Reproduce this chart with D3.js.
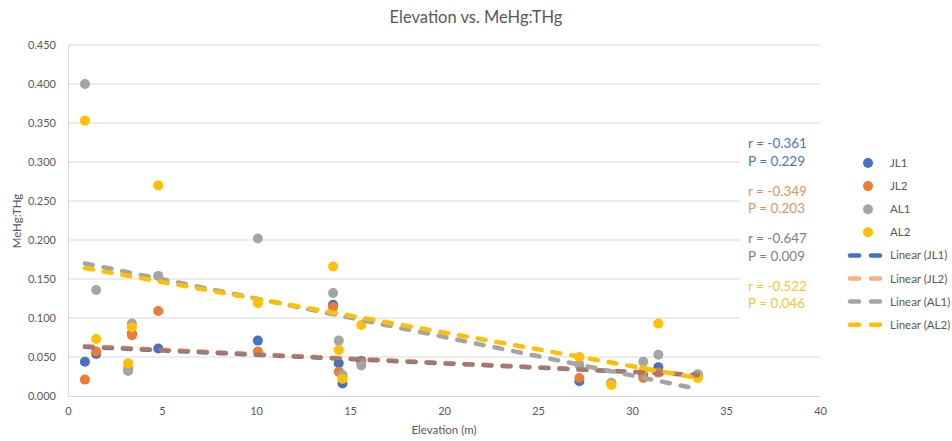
<!DOCTYPE html>
<html><head><meta charset="utf-8">
<script src="https://cdnjs.cloudflare.com/ajax/libs/d3/7.8.5/d3.min.js"></script>
<style>
html,body{margin:0;padding:0;background:#fff;}
svg{display:block;font-family:Lato,"Open Sans",sans-serif;}
</style></head>
<body><svg id="c" width="952" height="441"></svg>
<script>
// ---- data ----
const seriesNames = ["JL1", "JL2", "AL1", "AL2"];
const seriesColors = ["#4472C4", "#ED7D31", "#A5A5A5", "#FFC000"];
const elevAll = [0.9, 1.5, 3.2, 3.4, 4.8, 10.1, 14.1, 14.4, 14.6, 15.6, 27.2, 28.9, 30.6, 31.4, 33.5];
const elevJL1 = [0.9, 1.5, 3.4, 4.8, 10.1, 14.1, 14.4, 14.6, 15.6, 27.2, 30.6, 31.4, 33.5];
const valJL1 = [0.044, 0.054, 0.080, 0.061, 0.071, 0.117, 0.042, 0.016, 0.045, 0.019, 0.027, 0.037, 0.026];
const valJL2 = [0.021, 0.057, 0.035, 0.078, 0.109, 0.057, 0.114, 0.031, 0.024, 0.043, 0.023, 0.016, 0.023, 0.030, 0.025];
const valAL1 = [0.400, 0.136, 0.032, 0.093, 0.154, 0.202, 0.132, 0.071, 0.027, 0.039, 0.040, 0.017, 0.044, 0.053, 0.028];
const valAL2 = [0.353, 0.073, 0.042, 0.088, 0.270, 0.119, 0.166, 0.059, 0.022, 0.091, 0.050, 0.014, 0.033, 0.093, 0.023];
// linear trend lines: start/end elevation and value
const trendX = [[0.9, 33.5], [0.9, 33.5], [0.9, 33.5], [0.9, 33.5]];
const trendY = [[0.063, 0.027], [0.064, 0.027], [0.170, 0.009], [0.164, 0.023]];
const statR = ["r = -0.361", "r = -0.349", "r = -0.647", "r = -0.522"];
const statP = ["P = 0.229", "P = 0.203", "P = 0.009", "P = 0.046"];
const statColors = ["#4A74C0", "#E4935A", "#7F7F7F", "#F8C530"];
const xTicks = [0, 5, 10, 15, 20, 25, 30, 35, 40];
const yTicks = [0, 0.05, 0.1, 0.15, 0.2, 0.25, 0.3, 0.35, 0.4, 0.45];
const legendLabels = ["JL1", "JL2", "AL1", "AL2", "Linear (JL1)", "Linear (JL2)", "Linear (AL1)", "Linear (AL2)"];

const series = [
  {x: elevJL1, y: valJL1},
  {x: elevAll, y: valJL2},
  {x: elevAll, y: valAL1},
  {x: elevAll, y: valAL2}
];

// ---- layout ----
const L = 68, R = 820, T = 45, B = 396;
const svg = d3.select("#c");
const x = d3.scaleLinear().domain([0, 40]).range([L, R]);
const y = d3.scaleLinear().domain([0, 0.45]).range([B, T]);
const txt = "#595959";

// gridlines
svg.append("g").selectAll("line").data(yTicks.filter(d => d > 0)).join("line")
  .attr("x1", L).attr("x2", R).attr("y1", d => y(d)).attr("y2", d => y(d))
  .attr("stroke", "#D9D9D9").attr("stroke-width", 1);

// axes
const xAxis = svg.append("g").attr("transform", `translate(0,${B})`)
  .call(d3.axisBottom(x).tickValues(xTicks).tickSize(0).tickPadding(11).tickFormat(d3.format("d")));
xAxis.select(".domain").attr("stroke", "#D9D9D9");
xAxis.selectAll("text").attr("fill", txt).attr("font-size", 11).attr("font-family", "Lato,sans-serif");

const yAxis = svg.append("g").attr("transform", `translate(${L},0)`)
  .call(d3.axisLeft(y).tickValues(yTicks).tickSize(0).tickPadding(12).tickFormat(d3.format(".3f")));
yAxis.select(".domain").attr("stroke", "#D9D9D9");
yAxis.selectAll("text").attr("fill", txt).attr("font-size", 11).attr("font-family", "Lato,sans-serif");

// markers
series.forEach((s, i) => {
  svg.append("g").selectAll("circle").data(s.y).join("circle")
    .attr("cx", (d, j) => x(s.x[j])).attr("cy", d => y(d)).attr("r", 5)
    .attr("fill", seriesColors[i]);
});

// trend lines
const dash = "8 11";
const trendOpacity = [1, 0.6, 1, 1];
trendX.forEach((tx, i) => {
  svg.append("line")
    .attr("x1", x(tx[0])).attr("y1", y(trendY[i][0]))
    .attr("x2", x(tx[1])).attr("y2", y(trendY[i][1]))
    .attr("stroke", seriesColors[i]).attr("stroke-opacity", trendOpacity[i])
    .attr("stroke-width", 4.5).attr("stroke-dasharray", dash).attr("stroke-linecap", "round");
});

// stat annotations (white boxes)
svg.append("rect").attr("x", 740).attr("y", 130).attr("width", 80).attr("height", 195).attr("fill", "#fff");
statR.forEach((r, i) => {
  const y0 = 148 + i * 47.5;
  svg.append("text").attr("x", 748).attr("y", y0).attr("fill", statColors[i])
    .attr("font-size", 13.5).text(r);
  svg.append("text").attr("x", 748).attr("y", y0 + 17.5).attr("fill", statColors[i])
    .attr("font-size", 13.5).text(statP[i]);
});

// legend
const lg = svg.append("g");
legendLabels.forEach((lab, i) => {
  const cy = 163 + i * 23.1;
  if (i < 4) {
    lg.append("circle").attr("cx", 868).attr("cy", cy).attr("r", 5).attr("fill", seriesColors[i]);
  } else {
    const k = i - 4;
    lg.append("line").attr("x1", 850).attr("x2", 880).attr("y1", cy).attr("y2", cy)
      .attr("stroke", seriesColors[k]).attr("stroke-opacity", trendOpacity[k])
      .attr("stroke-width", 4.5).attr("stroke-dasharray", "9 12").attr("stroke-linecap", "round");
  }
  lg.append("text").attr("x", 890).attr("y", cy + 4).attr("fill", txt)
    .attr("font-size", 11.5).text(lab);
});

// titles
svg.append("text").attr("x", 476).attr("y", 23).attr("text-anchor", "middle")
  .attr("fill", txt).attr("font-size", 16.5).text("Elevation vs. MeHg:THg");
svg.append("text").attr("x", 444).attr("y", 434).attr("text-anchor", "middle")
  .attr("fill", txt).attr("font-size", 11.5).text("Elevation (m)");
svg.append("text").attr("transform", "translate(21,221) rotate(-90)").attr("text-anchor", "middle")
  .attr("fill", txt).attr("font-size", 11.5).text("MeHg:THg");
</script></body></html>
